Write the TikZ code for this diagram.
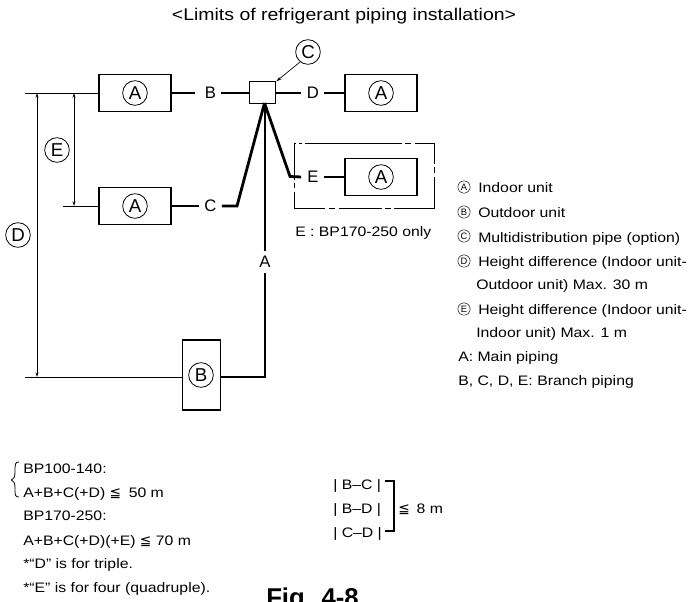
\documentclass[tikz,border=0pt]{standalone}
\usepackage{fontspec}
\setmainfont[FakeStretch=1.15]{Liberation Sans}
\newfontfamily\plainfont{Liberation Sans}
\newfontfamily\symfont{DejaVu Sans}
\usetikzlibrary{arrows.meta,calc}
\tikzset{
  unitbox/.style={draw,line width=0.8pt,fill=white,inner sep=0pt},
  mark circle/.style={circle,draw,line width=0.6pt,minimum size=18.5pt,inner sep=0pt,font=\plainfont\fontsize{14}{14}\selectfont},
  small mark/.style={circle,draw,line width=0.35pt,minimum size=9.2pt,inner sep=0pt,font=\plainfont\fontsize{7}{7}\selectfont},
  pipe/.style={line width=2.1pt,line join=miter},
  thinline/.style={line width=0.6pt},
  dim/.style={line width=0.55pt,{Stealth[length=3.5pt,width=2.2pt]}-{Stealth[length=3.5pt,width=2.2pt]}},
  pipelabel/.style={inner sep=0pt,font=\plainfont\fontsize{12.5}{13}\selectfont},
  txt/.style={anchor=base west,inner sep=0pt,font=\fontsize{10.3}{12}\selectfont},
}
\newcommand{\lesym}{{\symfont\char"2266}}
\begin{document}
\begin{tikzpicture}[x=0.75pt,y=-0.75pt]
\useasboundingbox (0,0) rectangle (689,601);
\clip (0,0) rectangle (689,601);
\node[anchor=base,inner sep=0pt,font=\fontsize{12.7}{14}\selectfont] (title) at (344,20.7) {<Limits of refrigerant piping installation>};
% units
\node[unitbox,minimum width=54pt,minimum height=28pt] (a1) at (135,93) {};
\node[unitbox,minimum width=54pt,minimum height=28pt] (a2) at (135,206) {};
\node[unitbox,minimum width=54pt,minimum height=28pt] (a3) at (381,93) {};
\node[unitbox,minimum width=54pt,minimum height=28pt] (a4) at (381,177) {};
\node[unitbox,minimum width=28.5pt,minimum height=52.5pt] (b) at (201.5,375) {};
\node[unitbox,minimum width=20pt,minimum height=16pt] (j) at (262.5,92.5) {};
% dash-dot outline
\draw[thinline]
  (294,143.5) -- (296,143.5) (299,143.5) -- (302,143.5) (305,143.5) -- (401.5,143.5)
  (405,143.5) -- (411,143.5) (414.5,143.5) -- (434,143.5) -- (434,163.5)
  (434,167) -- (434,173) (434,176.5) -- (434,208.5) -- (394,208.5)
  (391,208.5) -- (385,208.5) (381.5,208.5) -- (339,208.5)
  (335,208.5) -- (329,208.5) (325,208.5) -- (294,208.5) -- (294,192)
  (294,188) -- (294,183) (294,179.5) -- (294,143.5);
% circled marks
\node[mark circle] (ma1) at (135,93) {A};
\node[mark circle] (ma2) at (135,206) {A};
\node[mark circle] (ma3) at (381,93) {A};
\node[mark circle] (ma4) at (381,177) {A};
\node[mark circle] (mb) at (201,375) {B};
\node[mark circle] (mc) at (308,52) {C};
\node[mark circle] (md) at (18,235) {D};
\node[mark circle] (me) at (57,150) {E};
% pipe labels
\node[pipelabel] (lb) at (210.5,93) {B};
\node[pipelabel] (lc) at (210.5,206) {C};
\node[pipelabel] (ld) at (313,93) {D};
\node[pipelabel] (le) at (313,177) {E};
\node[pipelabel] (la) at (265,262) {A};
\coordinate (jb) at (264.5,103);
\coordinate (bendc) at (237,206);
\coordinate (bende) at (290,176.5);
\coordinate (corner) at (265,377);
% pipes
\draw[pipe] (a1.east|-lb) -- ($(lb.west)+(-10,0)$);
\draw[pipe] ($(lb.east)+(5,0)$) -- (j.west|-lb);
\draw[pipe] (j.east|-ld) -- ($(ld.west)+(-6,0)$);
\draw[pipe] ($(ld.east)+(5,0)$) -- (a3.west|-ld);
\draw[pipe] (a2.east|-lc) -- ($(lc.west)+(-5,0)$);
\draw[pipe] ($(lc.east)+(5,0)$) -- (bendc) -- (jb);
\draw[pipe] (jb) -- (bende) -- ($(le.west)+(-6,0)$);
\draw[pipe] ($(le.east)+(5,0)$) -- (a4.west|-le);
\draw[pipe] (j.south-|corner) -- ($(la.north)+(0,-5)$);
\draw[pipe] ($(la.south)+(0,5)$) -- (corner) -- (corner-|b.east);
% level lines
\coordinate (lv1) at (25,93);
\coordinate (lv2) at (63,206);
\coordinate (lv3) at (25,377);
\draw[thinline] (lv1) -- (a1.west|-lv1);
\draw[thinline] (lv2) -- (a2.west|-lv2);
\draw[thinline] (lv3) -- (b.west|-lv3);
\coordinate (dt) at (37,93);
\coordinate (db) at (37,377);
\coordinate (et) at (74,93);
\coordinate (eb) at (74,206);
\draw[dim] (dt) -- (db);
\draw[dim] (et) -- (eb);
\draw[line width=0.5pt,-{Stealth[length=4pt,width=2.4pt]}] (mc) ++(-8,10) -- (j.north east);
% legend
\node[small mark] (s1) at (464,187) {A};
\node[small mark] (s2) at (464,212) {B};
\node[small mark] (s3) at (464,236) {C};
\node[small mark] (s4) at (464,261) {D};
\node[small mark] (s6) at (464,309) {E};
\node[txt] (t1) at (478,192.7) {Indoor unit};
\node[txt] (t2) at (478,217.7) {Outdoor unit};
\node[txt] (t3) at (478,242) {Multidistribution pipe (option)};
\node[txt] (t4) at (478,266) {Height difference (Indoor unit-};
\node[txt] (t5) at (476,289) {Outdoor unit) Max. 30 m};
\node[txt] (t6) at (478,314) {Height difference (Indoor unit-};
\node[txt] (t7) at (476,337) {Indoor unit) Max. 1 m};
\node[txt] (t8) at (458,361.7) {A: Main piping};
\node[txt] (t9) at (458,385.7) {B, C, D, E: Branch piping};
\node[txt] (t10) at (295,236) {E : BP170-250 only};
% formulae
\node[txt] (f1) at (23,473) {BP100-140:};
\node[txt] (f2) at (23,497) {A+B+C(+D) \lesym\hspace{0.55em}50 m};
\node[txt] (f3) at (23,520.7) {BP170-250:};
\node[txt] (f4) at (23,545) {A+B+C(+D)(+E) \lesym\ 70 m};
\node[txt] (f5) at (23,568) {*“D” is for triple.};
\node[txt] (f6) at (23,592.7) {*“E” is for four (quadruple).};
\draw[line width=0.6pt] (19,462) .. controls (15,462) and (15,464) .. (15,472) .. controls (15,477) and (14,479) .. (11.5,480) .. controls (14,481) and (15,483) .. (15,488) .. controls (15,495) and (15,497) .. (19,497);
\node[txt] (g1) at (333,489) {| B–C |};
\node[txt] (g2) at (333,513) {| B–D |};
\node[txt] (g3) at (333,537) {| C–D |};
\node[txt] (g4) at (398,513) {\lesym\hspace{0.5em}8 m};
\coordinate (bt) at (385,481);
\coordinate (bb) at (385,531);
\draw[line width=0.8pt] (bt) -- ++(9,0) |- (bb);
\node[anchor=base west,inner sep=0pt,font=\plainfont\fontsize{19.3}{20}\bfseries\selectfont] (fig) at (266,606) {Fig. 4-8};
\end{tikzpicture}
\end{document}
